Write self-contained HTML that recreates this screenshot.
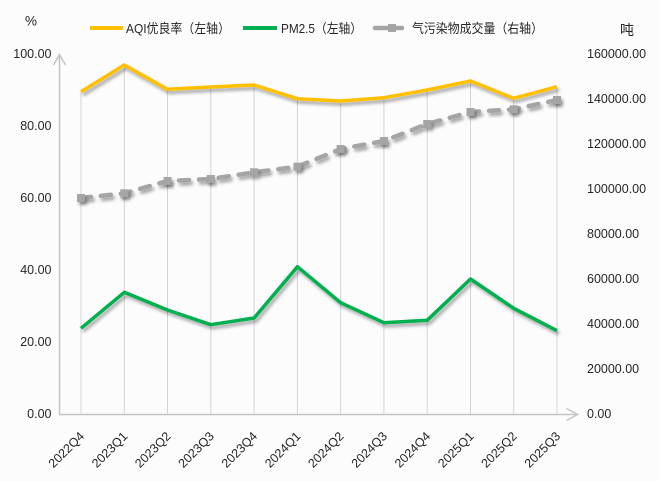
<!DOCTYPE html>
<html><head><meta charset="utf-8">
<style>
html,body{margin:0;padding:0;background:#fdfcfd;}
svg{display:block;}
text{font-family:"Liberation Sans","Noto Sans CJK SC",sans-serif;fill:#262626;}
</style></head>
<body>
<svg width="660" height="481" viewBox="0 0 660 481" xmlns="http://www.w3.org/2000/svg">
<defs>
<filter id="sh" x="-10%" y="-10%" width="120%" height="130%">
<feDropShadow dx="2" dy="3" stdDeviation="1.5" flood-color="#000" flood-opacity="0.35"/>
</filter>
</defs>
<rect width="660" height="481" fill="#fdfcfd"/>

<!-- drop lines -->
<g stroke="#d4d4d4" stroke-width="1">
<line x1="81" y1="92" x2="81" y2="414"/>
<line x1="124.3" y1="65" x2="124.3" y2="414"/>
<line x1="167.5" y1="89" x2="167.5" y2="414"/>
<line x1="210.8" y1="87" x2="210.8" y2="414"/>
<line x1="254.1" y1="85" x2="254.1" y2="414"/>
<line x1="297.4" y1="99" x2="297.4" y2="414"/>
<line x1="340.6" y1="101" x2="340.6" y2="414"/>
<line x1="383.9" y1="98" x2="383.9" y2="414"/>
<line x1="427.2" y1="90" x2="427.2" y2="414"/>
<line x1="470.5" y1="81" x2="470.5" y2="414"/>
<line x1="513.7" y1="98" x2="513.7" y2="414"/>
<line x1="557" y1="87" x2="557" y2="414"/>
</g>

<!-- axes -->
<g stroke="#c4c4c4" stroke-width="1.5" fill="none">
<line x1="59.5" y1="414.5" x2="59.5" y2="55"/>
<polyline points="53.5,65 59.5,54.5 65.5,65"/>
<line x1="59" y1="414.5" x2="577" y2="414.5"/>
<polyline points="566.5,408.5 577.5,414.5 566.5,420.5"/>
</g>

<!-- series -->
<polyline filter="url(#sh)" fill="none" stroke="#A5A5A5" stroke-width="4.5" stroke-linecap="round" stroke-dasharray="10 10"
points="81,198 124.3,193.3 167.5,181 210.8,179 254.1,172.3 297.4,166.7 340.6,149 383.9,141 427.2,124 470.5,112 513.7,109.3 557,100"/>
<g fill="#A5A5A5" filter="url(#sh)">
<rect x="77" y="194" width="8" height="8"/>
<rect x="120.3" y="189.3" width="8" height="8"/>
<rect x="163.5" y="177" width="8" height="8"/>
<rect x="206.8" y="175" width="8" height="8"/>
<rect x="250.1" y="168.3" width="8" height="8"/>
<rect x="293.4" y="162.7" width="8" height="8"/>
<rect x="336.6" y="145" width="8" height="8"/>
<rect x="379.9" y="137" width="8" height="8"/>
<rect x="423.2" y="120" width="8" height="8"/>
<rect x="466.5" y="108" width="8" height="8"/>
<rect x="509.7" y="105.3" width="8" height="8"/>
<rect x="553" y="96" width="8" height="8"/>
</g>
<polyline filter="url(#sh)" fill="none" stroke="#FFC000" stroke-width="3.5" stroke-linejoin="round"
points="81,91.7 124.3,65 167.5,89.3 210.8,87 254.1,85 297.4,98.7 340.6,101 383.9,97.7 427.2,90 470.5,81 513.7,98.3 557,86.7"/>
<polyline filter="url(#sh)" fill="none" stroke="#00B050" stroke-width="3.5" stroke-linejoin="round"
points="81,328.3 124.3,292.3 167.5,310 210.8,324.7 254.1,318 297.4,266.7 340.6,302.7 383.9,322.7 427.2,320.3 470.5,279 513.7,308.3 557,330.7"/>

<!-- legend -->
<line x1="90" y1="28" x2="123" y2="28" stroke="#FFC000" stroke-width="4"/>
<text x="126" y="33" font-size="13" textLength="104" lengthAdjust="spacingAndGlyphs">AQI优良率（左轴）</text>
<line x1="243" y1="28" x2="277" y2="28" stroke="#00B050" stroke-width="4"/>
<text x="281" y="33" font-size="13" textLength="81" lengthAdjust="spacingAndGlyphs">PM2.5（左轴）</text>
<line x1="375" y1="28" x2="402" y2="28" stroke="#A5A5A5" stroke-width="4.5" stroke-linecap="round"/>
<rect x="388" y="24" width="8" height="8" fill="#A5A5A5"/>
<text x="412" y="33" font-size="13" textLength="131" lengthAdjust="spacingAndGlyphs">气污染物成交量（右轴）</text>

<!-- axis titles -->
<text x="25" y="25.5" font-size="13.5">%</text>
<text x="620" y="35" font-size="14">吨</text>

<!-- left ticks -->
<g font-size="12.5" text-anchor="end">
<text x="51.5" y="58">100.00</text>
<text x="51.5" y="130">80.00</text>
<text x="51.5" y="202">60.00</text>
<text x="51.5" y="274">40.00</text>
<text x="51.5" y="346">20.00</text>
<text x="51.5" y="418">0.00</text>
</g>
<!-- right ticks -->
<g font-size="12.5">
<text x="587" y="58">160000.00</text>
<text x="587" y="103">140000.00</text>
<text x="587" y="148">120000.00</text>
<text x="587" y="193">100000.00</text>
<text x="587" y="238">80000.00</text>
<text x="587" y="283">60000.00</text>
<text x="587" y="328">40000.00</text>
<text x="587" y="373">20000.00</text>
<text x="587" y="418">0.00</text>
</g>

<!-- x labels -->
<g font-size="12.5" text-anchor="end" style="fill:#1f1f2a">
<text transform="translate(85,437) rotate(-45)">2022Q4</text>
<text transform="translate(128.3,437) rotate(-45)">2023Q1</text>
<text transform="translate(171.5,437) rotate(-45)">2023Q2</text>
<text transform="translate(214.8,437) rotate(-45)">2023Q3</text>
<text transform="translate(258.1,437) rotate(-45)">2023Q4</text>
<text transform="translate(301.4,437) rotate(-45)">2024Q1</text>
<text transform="translate(344.6,437) rotate(-45)">2024Q2</text>
<text transform="translate(387.9,437) rotate(-45)">2024Q3</text>
<text transform="translate(431.2,437) rotate(-45)">2024Q4</text>
<text transform="translate(474.5,437) rotate(-45)">2025Q1</text>
<text transform="translate(517.7,437) rotate(-45)">2025Q2</text>
<text transform="translate(561,437) rotate(-45)">2025Q3</text>
</g>
</svg>
</body></html>
